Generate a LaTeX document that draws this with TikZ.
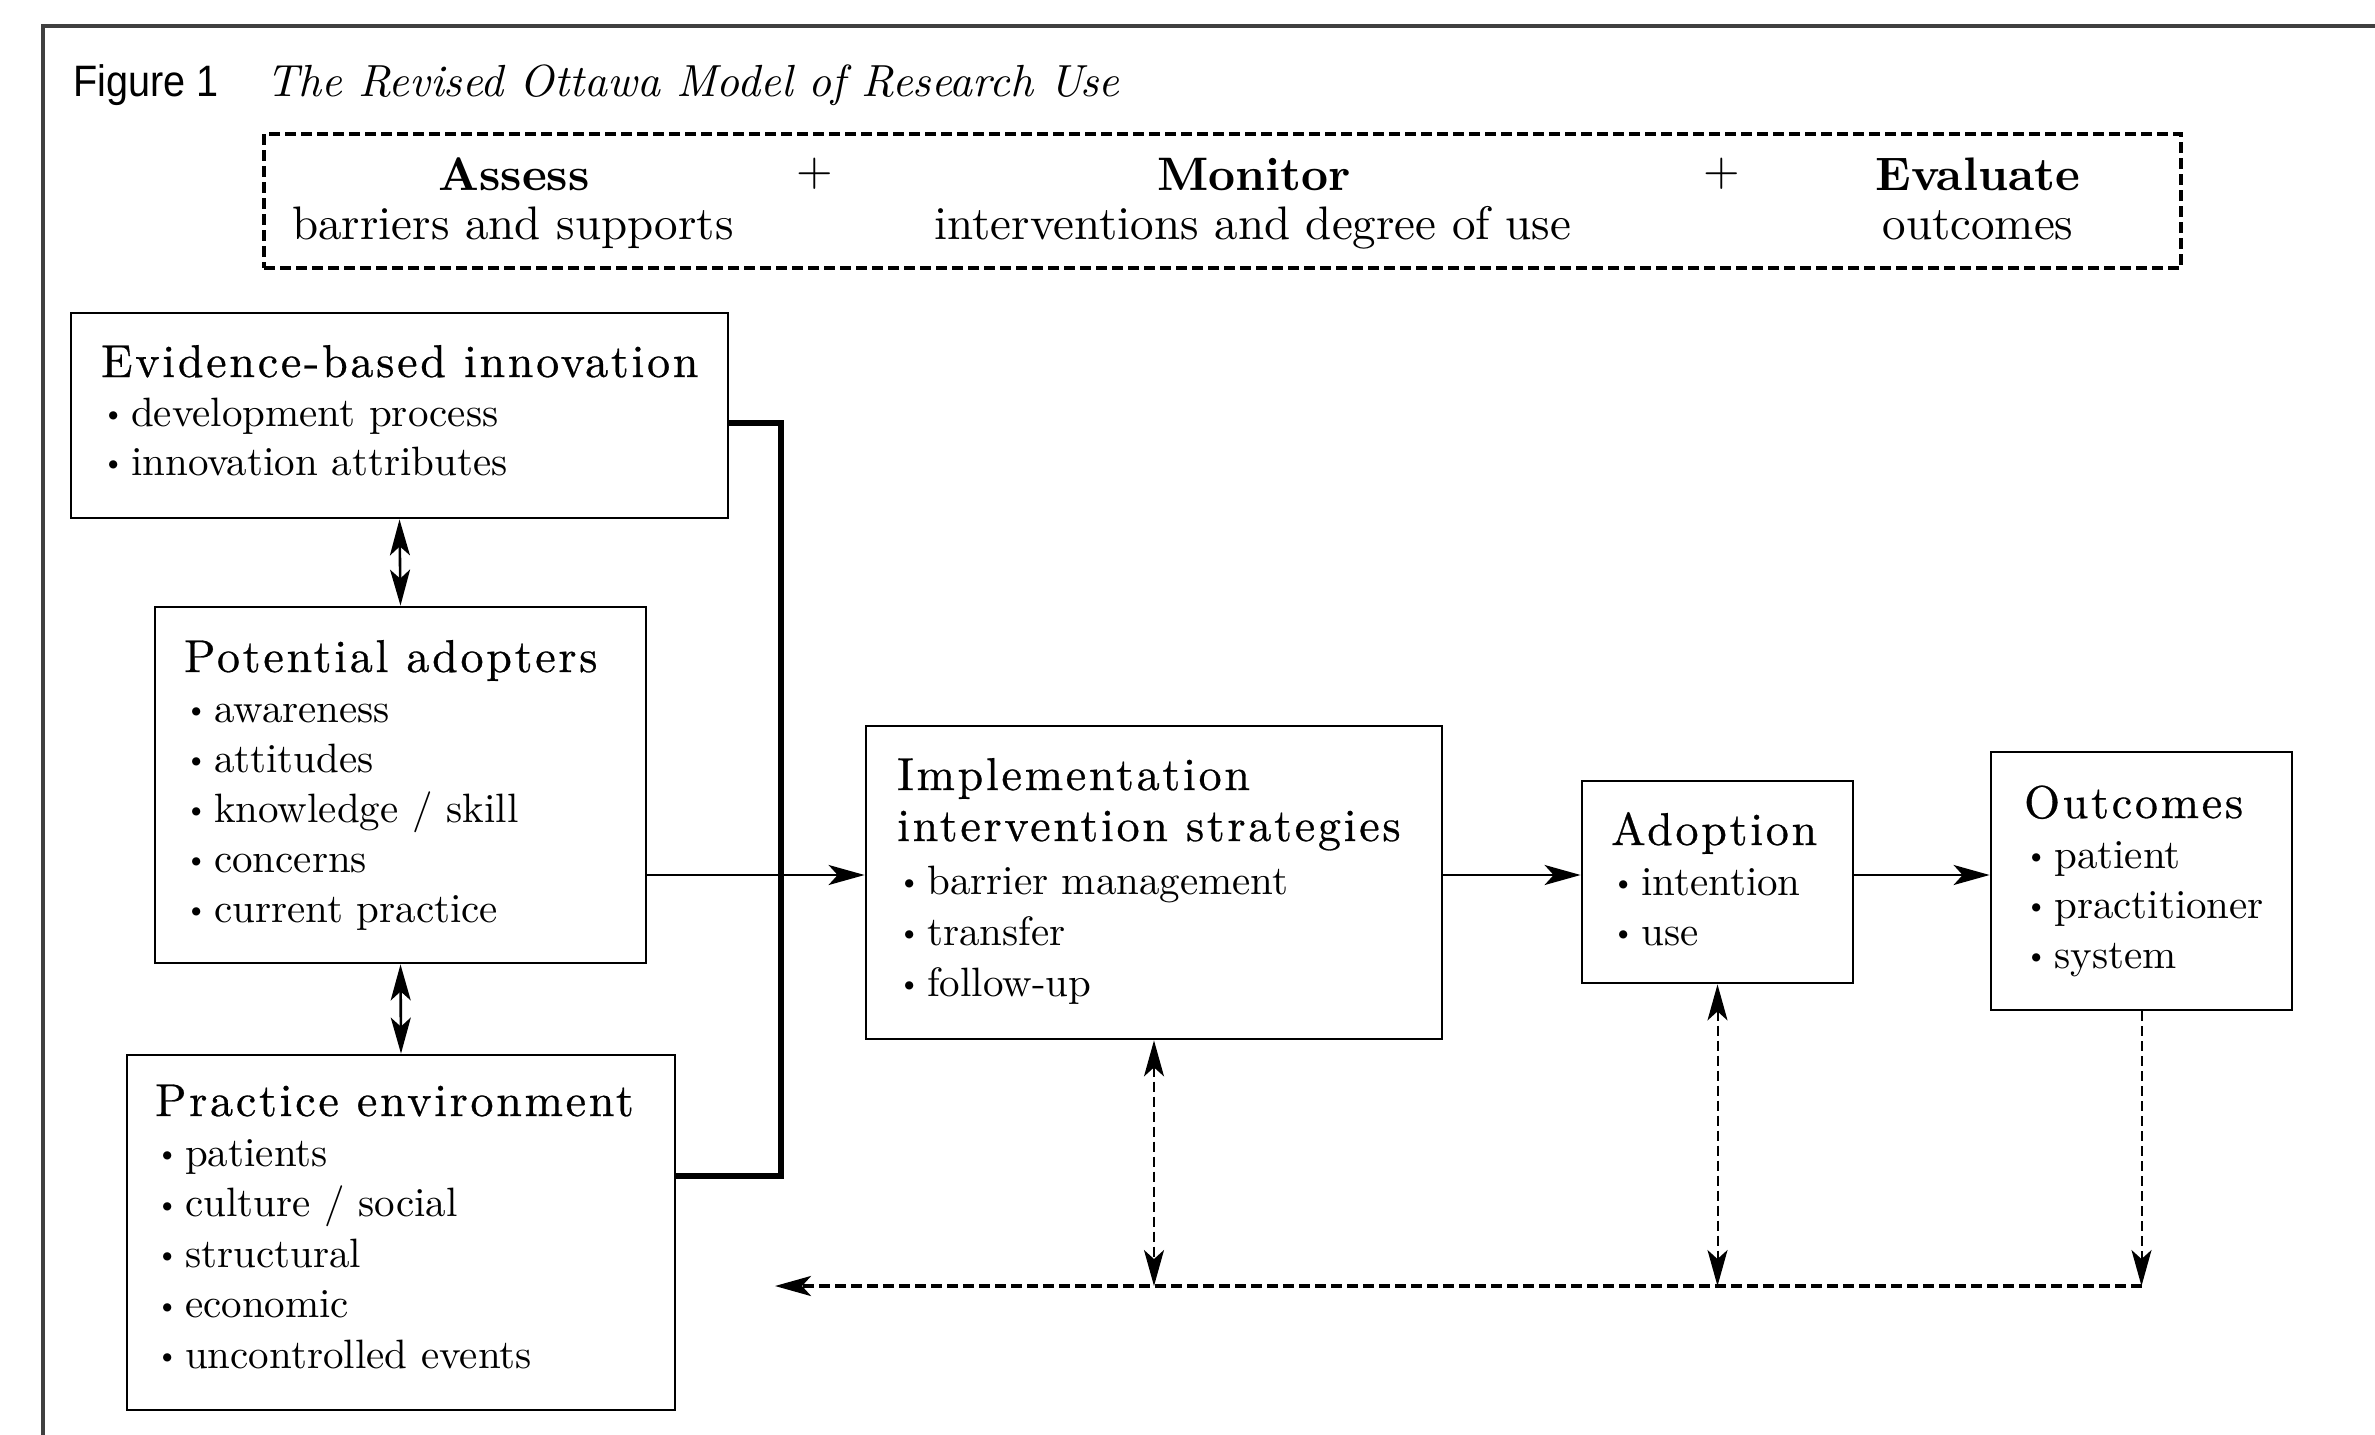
\documentclass[tikz,border=0pt]{standalone}
\usepackage{fontspec}
\usepackage{graphicx}
\usetikzlibrary{arrows.meta}
\setmainfont{lmroman10}[Extension=.otf, UprightFont=*-regular, BoldFont=*-bold, ItalicFont=*-italic, BoldItalicFont=*-bolditalic]
\newfontfamily\headfam{lmroman10}[Extension=.otf, UprightFont=*-regular, LetterSpace=6, FakeBold=0.6]
\newfontfamily\figsans{Liberation Sans}
\newcommand{\mybul}{\makebox[30pt][l]{\hspace{1pt}\raisebox{3.5pt}{\scalebox{0.7}{\textbullet}}}}
\newcommand{\hdrbf}{\fontsize{47}{56}\selectfont\bfseries}
\newcommand{\hdrrm}{\fontsize{47}{56}\selectfont}
\newcommand{\bodyf}{\fontsize{41}{49}\selectfont}
\newcommand{\headf}{\headfam\fontsize{46}{55}\selectfont}
\newcommand{\blk}[2]{\vtop{\baselineskip=#1\lineskiplimit=-100pt\lineskip=0pt #2}}
\tikzset{
  box/.style={draw=black, line width=2.8pt, rectangle, inner sep=0pt},
  hdrbox/.style={draw=black, line width=4pt, dash pattern=on 11pt off 5pt, rectangle, inner sep=0pt},
  txt/.style={inner sep=0pt, anchor=base west},
  ctxt/.style={inner sep=0pt, anchor=base},
  tip/.tip={Stealth[length=36pt,width=20pt,inset=9pt]},
  arr/.style={line width=2.6pt, -tip},
  darr/.style={line width=2.6pt, tip-tip},
  bus/.style={line width=6pt},
  dthin/.style={line width=2pt, dash pattern=on 10pt off 5pt},
  dthick/.style={line width=3.5pt, dash pattern=on 11pt off 5pt}
}
\begin{document}
\begin{tikzpicture}[x=1pt,y=-1pt]
\fill[white] (0,0) rectangle (2375,1435);
\useasboundingbox (0,0) rectangle (2375,1435);
% outer frame
\draw[line width=3.5pt, black!75] (2375,26) -- (43,26) -- (43,1435);

% title
\node[txt] (fig) at (73,96) {\figsans\fontsize{44}{50}\selectfont\scalebox{0.9}[1]{Figure 1}};
\node[txt] (title) at (266,96) {\fontsize{45}{50}\selectfont\itshape The Revised Ottawa Model of Research Use};

% header box
\node[hdrbox, minimum width=1917pt, minimum height=134pt] (hdr) at (1222.5,201) {};
\node[ctxt, font=\hdrbf] (assess) at (514,190) {Assess};
\node[ctxt, font=\hdrrm] (assess2) at (513,239) {barriers and supports};
\node[ctxt, font=\hdrrm] (plus1) at (815,185) {+};
\node[ctxt, font=\hdrbf] (monitor) at (1254,190) {Monitor};
\node[ctxt, font=\hdrrm] (monitor2) at (1253,239) {interventions and degree of use};
\node[ctxt, font=\hdrrm] (plus2) at (1722,185) {+};
\node[ctxt, font=\hdrbf] (evaluate) at (1978,190) {Evaluate};
\node[ctxt, font=\hdrrm] (evaluate2) at (1978,239) {outcomes};

% boxes
\node[box, minimum width=657pt, minimum height=205pt] (ebi) at (399.5,415.5) {};
\node[box, minimum width=491pt, minimum height=356pt] (pa) at (400.5,785) {};
\node[box, minimum width=548pt, minimum height=355pt] (pe) at (401,1232.5) {};
\node[box, minimum width=576pt, minimum height=313pt] (iis) at (1154,882.5) {};
\node[box, minimum width=271pt, minimum height=202pt] (adopt) at (1717.5,882) {};
\node[box, minimum width=301pt, minimum height=258pt] (outc) at (2141.5,881) {};

% box texts
\node[txt] (ebi-t) at (101,377) {\blk{49pt}{%
  \hbox{\headf Evidence-based innovation}%
  \hbox{\bodyf\mybul development process}%
  \hbox{\bodyf\mybul innovation attributes}}};
\node[txt] (pa-t) at (184,672) {\blk{50pt}{%
  \hbox{\headf Potential adopters}%
  \hbox{\bodyf\mybul awareness}%
  \hbox{\bodyf\mybul attitudes}%
  \hbox{\bodyf\mybul knowledge / skill}%
  \hbox{\bodyf\mybul concerns}%
  \hbox{\bodyf\mybul current practice}}};
\node[txt] (pe-t) at (155,1116) {\blk{50.4pt}{%
  \hbox{\headf Practice environment}%
  \hbox{\bodyf\mybul patients}%
  \hbox{\bodyf\mybul culture / social}%
  \hbox{\bodyf\mybul structural}%
  \hbox{\bodyf\mybul economic}%
  \hbox{\bodyf\mybul uncontrolled events}}};
\node[txt] (iis-t) at (897,790) {\blk{51pt}{%
  \hbox{\headf Implementation}%
  \hbox{\headf intervention strategies}\kern2pt
  \hbox{\bodyf\mybul barrier management}%
  \hbox{\bodyf\mybul transfer}%
  \hbox{\bodyf\mybul follow-up}}};
\node[txt] (adopt-t) at (1611,845) {\blk{50pt}{%
  \hbox{\headf Adoption}%
  \hbox{\bodyf\mybul intention}%
  \hbox{\bodyf\mybul use}}};
\node[txt] (outc-t) at (2024,818) {\blk{50pt}{%
  \hbox{\headf Outcomes}%
  \hbox{\bodyf\mybul patient}%
  \hbox{\bodyf\mybul practitioner}%
  \hbox{\bodyf\mybul system}}};

% connectors
\coordinate (busTop) at (781,423);
\coordinate (busBot) at (781,1176);
\coordinate (flow) at (0,875);
\coordinate (fbL) at (775,1286);
\coordinate (fbR) at (2142,1286);

\draw[bus] (ebi.east |- busTop) -- (busTop) -- (busBot) -- (pe.east |- busBot);
\draw[darr] (ebi.south) -- (pa.north);
\draw[darr] (pa.south) -- (pe.north);
\draw[arr] (pa.east |- flow) -- (iis.west |- flow);
\draw[arr] (iis.east |- flow) -- (adopt.west |- flow);
\draw[arr] (adopt.east |- flow) -- (outc.west |- flow);

\draw[dthin, tip-tip] (iis.south) -- (iis.south |- fbL);
\draw[dthin, tip-tip] (adopt.south) -- (adopt.south |- fbL);
\draw[dthin, -tip] (outc.south) -- (outc.south |- fbR);
\draw[dthick, -tip] (outc.south |- fbR) -- (fbL);
\end{tikzpicture}
\end{document}
